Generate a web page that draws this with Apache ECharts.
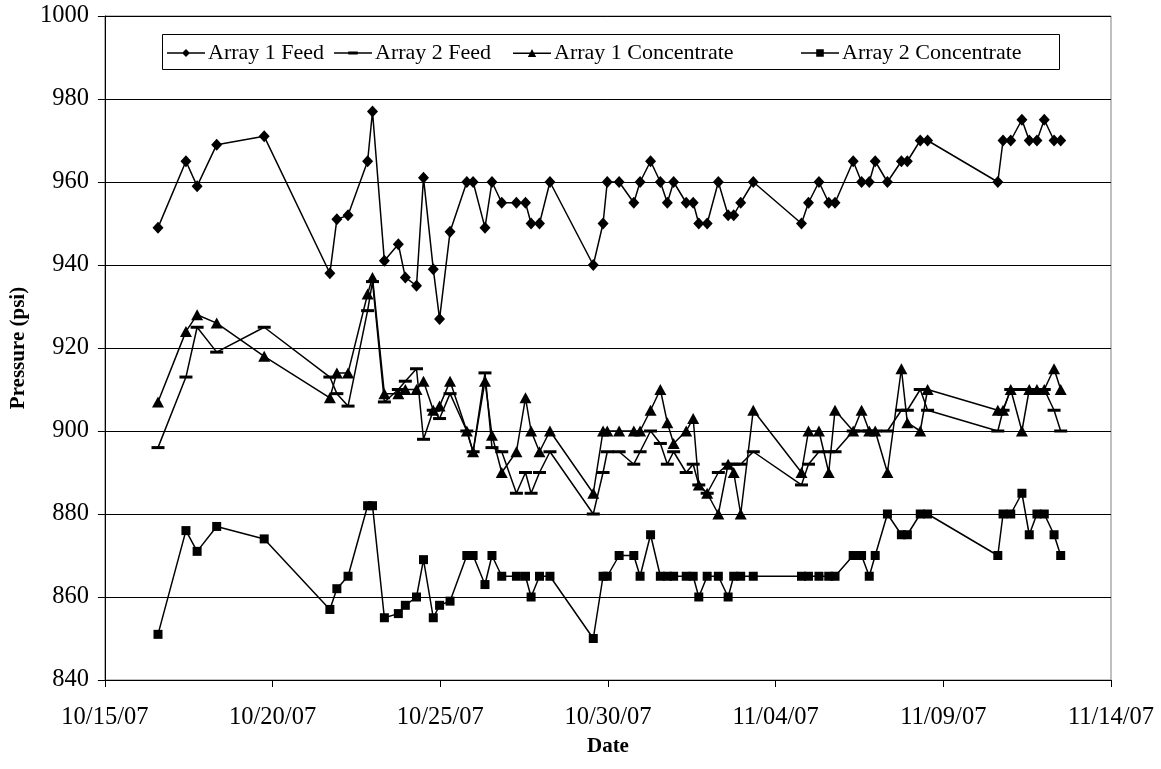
<!DOCTYPE html>
<html>
<head>
<meta charset="utf-8">
<script src="https://cdn.jsdelivr.net/npm/echarts@6/dist/echarts.min.js"></script>
<style>
  html, body { margin: 0; padding: 0; background: #ffffff; }
  #chart { width: 1161px; height: 769px; }
</style>
</head>
<body>
<div id="chart"></div>
<script>
// Reading times (shared by all four pressure series)
const readingTimes = [
  '2007-10-16 14:00', '2007-10-17 10:00', '2007-10-17 18:00', '2007-10-18 08:00', '2007-10-19 18:00',
  '2007-10-21 17:00', '2007-10-21 22:00', '2007-10-22 06:00', '2007-10-22 20:00', '2007-10-22 23:30',
  '2007-10-23 08:00', '2007-10-23 18:00', '2007-10-23 23:00', '2007-10-24 07:00', '2007-10-24 12:00',
  '2007-10-24 19:00', '2007-10-24 23:30', '2007-10-25 07:00', '2007-10-25 19:00', '2007-10-25 23:30',
  '2007-10-26 08:00', '2007-10-26 13:00', '2007-10-26 20:00', '2007-10-27 06:30', '2007-10-27 13:00',
  '2007-10-27 17:00', '2007-10-27 23:00', '2007-10-28 06:30', '2007-10-29 13:30', '2007-10-29 20:30',
  '2007-10-29 23:30', '2007-10-30 08:00', '2007-10-30 18:30', '2007-10-30 23:00', '2007-10-31 06:30',
  '2007-10-31 13:30', '2007-10-31 18:30', '2007-10-31 23:00', '2007-11-01 08:00', '2007-11-01 13:00',
  '2007-11-01 17:00', '2007-11-01 23:00', '2007-11-02 07:00', '2007-11-02 14:00', '2007-11-02 18:00',
  '2007-11-02 23:00', '2007-11-03 08:00', '2007-11-04 18:30', '2007-11-04 23:30', '2007-11-05 07:00',
  '2007-11-05 14:00', '2007-11-05 18:30', '2007-11-06 07:30', '2007-11-06 13:30', '2007-11-06 19:00',
  '2007-11-06 23:15', '2007-11-07 08:00', '2007-11-07 18:00', '2007-11-07 22:15', '2007-11-08 07:30',
  '2007-11-08 12:45', '2007-11-10 15:00', '2007-11-10 18:45', '2007-11-11 00:15', '2007-11-11 08:15',
  '2007-11-11 13:30', '2007-11-11 19:00', '2007-11-12 00:15', '2007-11-12 07:15', '2007-11-12 12:00'
];

// Pressures in psi
const array1Feed = [
  949, 965, 959, 969, 971, 938, 951, 952, 965, 977,
  941, 945, 937, 935, 961, 939, 927, 948, 960, 960,
  949, 960, 955, 955, 955, 950, 950, 960, 940, 950,
  960, 960, 955, 960, 965, 960, 955, 960, 955, 955,
  950, 950, 960, 952, 952, 955, 960, 950, 955, 960,
  955, 955, 965, 960, 960, 965, 960, 965, 965, 970,
  970, 960, 970, 970, 975, 970, 970, 975, 970, 970
];
const array2Feed = [
  896, 913, 925, 919, 925, 913, 909, 906, 929, 936,
  907, 910, 912, 915, 898, 905, 903, 909, 900, 895,
  914, 896, 895, 885, 890, 885, 890, 895, 880, 890,
  895, 895, 892, 895, 900, 897, 892, 895, 890, 892,
  887, 885, 890, 892, 892, 892, 895, 887, 892, 895,
  895, 895, 900, 900, 900, 900, 900, 905, 905, 910,
  905, 900, 905, 910, 910, 910, 910, 910, 905, 900
];
const array1Concentrate = [
  907, 924, 928, 926, 918, 908, 914, 914, 933, 937,
  909, 909, 910, 910, 912, 905, 906, 912, 900, 895,
  912, 899, 890, 895, 908, 900, 895, 900, 885, 900,
  900, 900, 900, 900, 905, 910, 902, 897, 900, 903,
  887, 885, 880, 892, 890, 880, 905, 890, 900, 900,
  890, 905, 900, 905, 900, 900, 890, 915, 902, 900,
  910, 905, 905, 910, 900, 910, 910, 910, 915, 910
];
const array2Concentrate = [
  851, 876, 871, 877, 874, 857, 862, 865, 882, 882,
  855, 856, 858, 860, 869, 855, 858, 859, 870, 870,
  863, 870, 865, 865, 865, 860, 865, 865, 850, 865,
  865, 870, 870, 865, 875, 865, 865, 865, 865, 865,
  860, 865, 865, 860, 865, 865, 865, 865, 865, 865,
  865, 865, 870, 870, 865, 870, 880, 875, 875, 880,
  880, 870, 880, 880, 885, 875, 880, 880, 875, 870
];

const seriesNames = ['Array 1 Feed', 'Array 2 Feed', 'Array 1 Concentrate', 'Array 2 Concentrate'];
const dateTickLabels = ['10/15/07', '10/20/07', '10/25/07', '10/30/07', '11/04/07', '11/09/07', '11/14/07'];
const pressureTicks = [840, 860, 880, 900, 920, 940, 960, 980, 1000];

// x is measured in days from the first date tick
const axisStart = Date.UTC(2007, 9, 15);
const DAY_MS = 86400000;
function toDays(s) {
  const [d, t] = s.split(' ');
  const [y, m, dd] = d.split('-').map(Number);
  const [h, mi] = t.split(':').map(Number);
  return (Date.UTC(y, m - 1, dd, h, mi) - axisStart) / DAY_MS;
}
const dayOffsets = readingTimes.map(toDays);
const withTimes = vals => vals.map((v, i) => [dayOffsets[i], v]);

const FONT = "'Liberation Serif', 'Times New Roman', serif";
const INK = '#000000';

// Legend keys: a short line with the series marker in the middle (40 x 12 box)
const KEY_LINE = 'M0,5.3 H40 V6.7 H0 Z ';
const legendKeys = [
  'path://' + KEY_LINE + 'M20,1.8 L24.2,6 L20,10.2 L15.8,6 Z',
  'path://' + KEY_LINE + 'M15,4.4 H25 V7.6 H15 Z',
  'path://' + KEY_LINE + 'M20,1.6 L24.4,9.8 L15.6,9.8 Z',
  'path://' + KEY_LINE + 'M16,2 H24 V10 H16 Z'
];
const legendLefts = [167, 334, 513, 801];

function lineSeries(name, values, symbol, symbolSize) {
  return {
    name: name,
    type: 'line',
    data: withTimes(values),
    symbol: symbol,
    symbolSize: symbolSize,
    showAllSymbol: true,
    lineStyle: { color: INK, width: 1.5 },
    itemStyle: { color: INK, borderWidth: 0 },
    emphasis: { disabled: true },
    animation: false
  };
}

const chart = echarts.init(document.getElementById('chart'), null, { renderer: 'canvas' });
chart.setOption({
  backgroundColor: '#ffffff',
  animation: false,
  grid: {
    left: 104, right: 50, top: 16, bottom: 89,
    show: true, borderColor: '#808080', borderWidth: 1, backgroundColor: 'transparent'
  },
  graphic: [{
    type: 'rect',
    left: 162, top: 34, z: 90,
    shape: { width: 897, height: 35 },
    style: { fill: '#ffffff', stroke: '#000000', lineWidth: 1 }
  }],
  legend: seriesNames.map((name, i) => ({
    left: legendLefts[i], top: 42, z: 100,
    padding: 0, itemGap: 0,
    itemWidth: 38, itemHeight: 12,
    selectedMode: false,
    textStyle: { fontFamily: FONT, fontSize: 22, color: INK, padding: [0, 0, 0, -2] },
    data: [{ name: name, icon: legendKeys[i], itemStyle: { color: INK, borderWidth: 0 } }]
  })),
  xAxis: {
    type: 'value',
    min: 0, max: 30, interval: 5,
    name: 'Date',
    nameLocation: 'middle',
    nameGap: 56,
    nameTextStyle: { fontFamily: FONT, fontSize: 21, fontWeight: 'bold', color: INK },
    axisLine: { lineStyle: { color: INK, width: 1 } },
    axisTick: { show: true, inside: false, length: 7, lineStyle: { color: INK } },
    axisLabel: {
      fontFamily: FONT, fontSize: 24.5, color: INK, margin: 25,
      formatter: v => dateTickLabels[Math.round(v / 5)] || ''
    },
    splitLine: { show: false }
  },
  yAxis: {
    type: 'value',
    min: pressureTicks[0], max: pressureTicks[pressureTicks.length - 1], interval: 20,
    name: 'Pressure (psi)',
    nameLocation: 'middle',
    nameGap: 74,
    nameRotate: 90,
    nameTextStyle: { fontFamily: FONT, fontSize: 21, fontWeight: 'bold', color: INK },
    axisLine: { show: true, lineStyle: { color: INK, width: 1 } },
    axisTick: { show: true, inside: false, length: 7, lineStyle: { color: INK } },
    axisLabel: {
      fontFamily: FONT, fontSize: 24.5, color: INK, margin: 16,
      formatter: v => String(v)
    },
    splitLine: { show: true, lineStyle: { color: INK, width: 1 } }
  },
  series: [
    lineSeries(seriesNames[0], array1Feed, 'diamond', [11, 12]),
    lineSeries(seriesNames[1], array2Feed, 'rect', [13, 3]),
    lineSeries(seriesNames[2], array1Concentrate, 'triangle', [12, 11]),
    lineSeries(seriesNames[3], array2Concentrate, 'rect', [9, 9])
  ]
});
</script>
</body>
</html>
